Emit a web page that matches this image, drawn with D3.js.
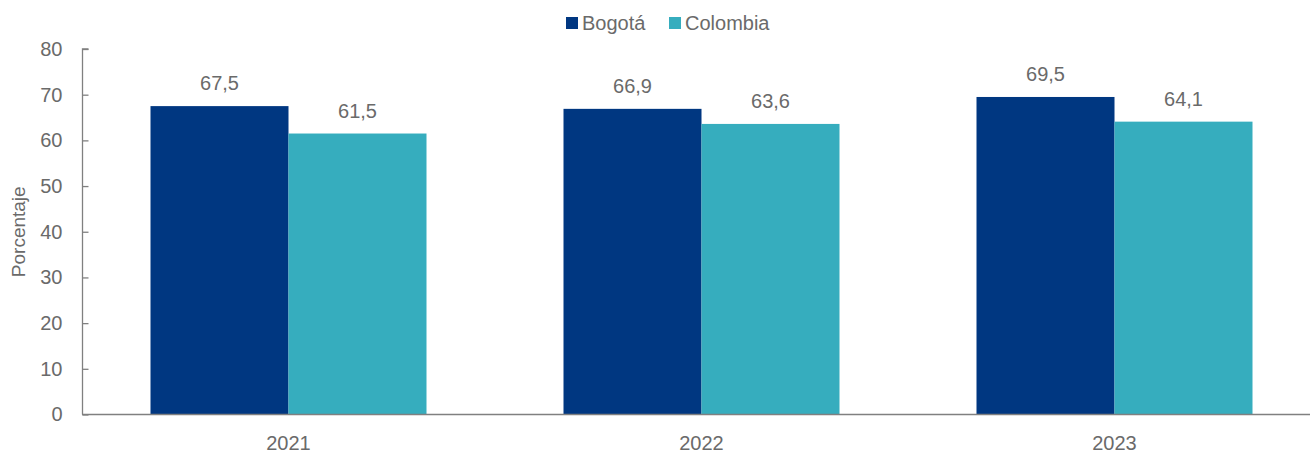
<!DOCTYPE html>
<html>
<head>
<meta charset="utf-8">
<script src="https://cdn.jsdelivr.net/npm/d3@7"></script>
<style>
  html, body { margin: 0; padding: 0; background: #fff; }
  svg { display: block; }
  text { font-family: "Liberation Sans", Arial, sans-serif; fill: #6a6a6a; }
</style>
</head>
<body>
<svg id="chart" width="1310" height="452"></svg>
<script>
const categories = ["2021", "2022", "2023"];
const seriesNames = ["Bogotá", "Colombia"];
const bogota = [67.5, 66.9, 69.5];
const colombia = [61.5, 63.6, 64.1];
const yTicks = [0, 10, 20, 30, 40, 50, 60, 70, 80];
const colors = ["#003781", "#36ADBE"];

const seriesValues = [bogota, colombia];
const svg = d3.select("#chart");

const x0 = d3.scaleBand().domain(categories).range([82, 1321]).paddingInner(0).paddingOuter(0);
const innerPad = (x0.bandwidth() - 276) / 2;
const x1 = d3.scaleBand().domain(seriesNames).range([innerPad, x0.bandwidth() - innerPad]).padding(0);
const y = d3.scaleLinear().domain([0, 80]).range([414.5, 49]);

const fmt = v => v.toFixed(1).replace(".", ",");

// bars
categories.forEach((c, i) => {
  const g = svg.append("g").attr("transform", `translate(${x0(c)},0)`);
  seriesNames.forEach((s, j) => {
    const v = seriesValues[j][i];
    g.append("rect")
      .attr("x", x1(s))
      .attr("y", y(v))
      .attr("width", x1.bandwidth())
      .attr("height", y(0) - y(v))
      .attr("fill", colors[j]);
    g.append("text")
      .attr("x", x1(s) + x1.bandwidth() / 2)
      .attr("y", y(v) - 16)
      .attr("text-anchor", "middle")
      .style("font-size", "20px")
      .text(fmt(v));
  });
});

// y axis
const yAxis = d3.axisLeft(y).tickValues(yTicks).tickSize(0).tickPadding(20).tickFormat(d3.format("d"));
const gy = svg.append("g").attr("transform", "translate(82.5,0)").call(yAxis);
gy.attr("font-family", null).attr("font-size", null);
gy.selectAll(".tick line").attr("stroke", "#808080").attr("stroke-width", 1.3).attr("x1", 0).attr("x2", 6);
gy.select(".domain").attr("stroke", "#808080").attr("stroke-width", 1.3).attr("d", `M6,${y(80)}H0V${y(0)}`);
gy.selectAll(".tick text").style("font-size", "20px").attr("fill", "#6a6a6a");

// x axis
const xAxis = d3.axisBottom(x0).tickSize(0).tickPadding(20);
const gx = svg.append("g").attr("transform", `translate(0,${y(0)})`).call(xAxis);
gx.attr("font-family", null).attr("font-size", null);
gx.select(".domain").attr("stroke", "#808080").attr("stroke-width", 1.5).attr("d", `M82,0H1310`);
gx.selectAll(".tick text").style("font-size", "20px").attr("fill", "#6a6a6a").attr("dy", "0").attr("y", 35);

// y title
svg.append("text")
  .attr("transform", `translate(25,${(y(0) + y(80)) / 2}) rotate(-90)`)
  .attr("text-anchor", "middle")
  .style("font-size", "19px")
  .text("Porcentaje");

// legend
const legendItems = [{ name: seriesNames[0], x: 566 }, { name: seriesNames[1], x: 669 }];
legendItems.forEach((d, i) => {
  svg.append("rect").attr("x", d.x).attr("y", 17).attr("width", 12).attr("height", 12).attr("fill", colors[i]);
  svg.append("text").attr("x", d.x + 16).attr("y", 29.5).style("font-size", "20px").text(d.name);
});
</script>
</body>
</html>
